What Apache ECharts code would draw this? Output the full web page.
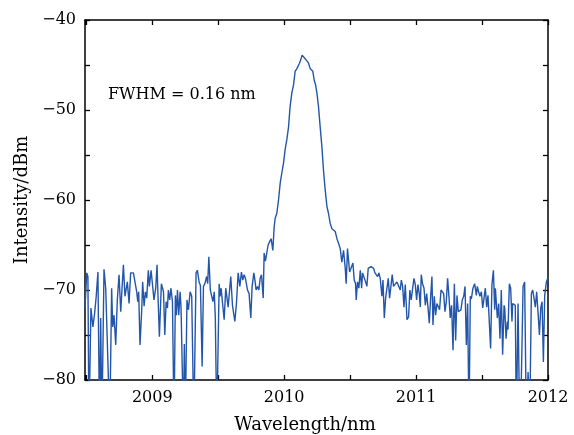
<!DOCTYPE html>
<html><head><meta charset="utf-8">
<script src="https://cdn.jsdelivr.net/npm/echarts@6/dist/echarts.min.js"></script>
<style>html,body{margin:0;padding:0;background:#fff}#c{width:574px;height:435px}</style>
</head><body><div id="c"></div>
<script>
// Wavelength samples (nm)
const wavelength = [
2008.490,2008.503,2008.512,2008.520,2008.535,2008.550,2008.563,2008.575,2008.588,2008.600,
2008.609,2008.618,2008.634,2008.647,2008.656,2008.678,2008.692,2008.700,2008.710,2008.723,
2008.735,2008.748,2008.761,2008.781,2008.793,2008.811,2008.824,2008.836,2008.857,2008.864,
2008.882,2008.890,2008.897,2008.907,2008.920,2008.927,2008.938,2008.948,2008.958,2008.970,
2008.978,2008.991,2009.013,2009.026,2009.036,2009.044,2009.054,2009.069,2009.085,2009.095,
2009.105,2009.115,2009.122,2009.132,2009.142,2009.153,2009.165,2009.175,2009.183,2009.191,
2009.201,2009.211,2009.218,2009.236,2009.243,2009.250,2009.263,2009.274,2009.287,2009.299,
2009.315,2009.332,2009.342,2009.355,2009.365,2009.378,2009.388,2009.399,2009.412,2009.420,
2009.429,2009.440,2009.450,2009.460,2009.470,2009.478,2009.489,2009.507,2009.514,2009.522,
2009.529,2009.545,2009.557,2009.575,2009.583,2009.595,2009.608,2009.626,2009.638,2009.651,
2009.664,2009.676,2009.686,2009.696,2009.706,2009.722,2009.734,2009.747,2009.757,2009.770,
2009.780,2009.787,2009.798,2009.808,2009.818,2009.828,2009.841,2009.848,2009.858,2009.868,
2009.878,2009.891,2009.901,2009.914,2009.924,2009.932,2009.944,2009.957,2009.970,2009.982,
2009.995,2010.007,2010.020,2010.033,2010.045,2010.058,2010.071,2010.083,2010.096,2010.109,
2010.116,2010.126,2010.136,2010.147,2010.159,2010.172,2010.185,2010.197,2010.210,2010.217,
2010.228,2010.238,2010.248,2010.260,2010.273,2010.286,2010.298,2010.311,2010.324,2010.336,
2010.349,2010.362,2010.374,2010.387,2010.400,2010.412,2010.425,2010.437,2010.450,2010.463,
2010.470,2010.480,2010.488,2010.496,2010.508,2010.521,2010.531,2010.541,2010.546,2010.556,
2010.566,2010.577,2010.587,2010.594,2010.607,2010.617,2010.627,2010.637,2010.647,2010.658,
2010.668,2010.678,2010.688,2010.698,2010.708,2010.718,2010.728,2010.741,2010.749,2010.759,
2010.769,2010.779,2010.789,2010.799,2010.809,2010.819,2010.829,2010.842,2010.855,2010.867,
2010.880,2010.888,2010.898,2010.908,2010.918,2010.931,2010.943,2010.953,2010.963,2010.974,
2010.984,2010.994,2011.004,2011.014,2011.024,2011.032,2011.039,2011.049,2011.060,2011.070,
2011.080,2011.090,2011.100,2011.110,2011.120,2011.128,2011.138,2011.148,2011.158,2011.168,
2011.178,2011.189,2011.199,2011.209,2011.219,2011.229,2011.239,2011.249,2011.259,2011.269,
2011.280,2011.290,2011.300,2011.310,2011.320,2011.330,2011.340,2011.350,2011.361,2011.371,
2011.381,2011.391,2011.401,2011.411,2011.419,2011.431,2011.444,2011.457,2011.464,2011.474,
2011.484,2011.495,2011.505,2011.515,2011.525,2011.535,2011.545,2011.555,2011.565,2011.575,
2011.586,2011.596,2011.601,2011.608,2011.616,2011.626,2011.636,2011.646,2011.656,2011.667,
2011.672,2011.682,2011.692,2011.697,2011.707,2011.717,2011.727,2011.732,2011.742,2011.752,
2011.760,2011.773,2011.785,2011.798,2011.811,2011.823,2011.836,2011.849,2011.861,2011.874,
2011.884,2011.894,2011.904,2011.914,2011.924,2011.935,2011.945,2011.955,2011.965,2011.975,
2011.988,2012.000
];
// Intensity (dBm)
const intensity = [
-72.0,-68.1,-68.5,-85,-72.0,-74.1,-72.6,-70.7,-68.0,-85,
-73.1,-85,-67.7,-69.8,-69.6,-85,-69.8,-74.1,-72.8,-76.1,
-71.1,-68.3,-72.4,-67.2,-70.7,-69.1,-71.5,-68.1,-68.1,-68.0,
-70.2,-71.3,-70.2,-76.1,-72.2,-69.1,-71.8,-70.2,-70.9,-67.8,
-69.6,-67.8,-71.1,-69.8,-67.2,-70.9,-75.2,-69.3,-70.2,-75.0,
-71.3,-72.0,-70.0,-71.1,-69.8,-71.3,-85,-70.6,-72.8,-70.0,
-72.8,-70.2,-71.9,-85,-76.0,-85,-71.1,-72.2,-70.2,-70.7,
-85,-68.1,-67.8,-69.1,-69.5,-78.5,-69.6,-69.3,-68.5,-69.3,
-66.3,-70.0,-69.9,-71.3,-70.2,-73.1,-85,-69.3,-70.7,-69.8,
-70.9,-73.3,-69.8,-71.9,-72.0,-68.5,-71.7,-73.5,-71.5,-68.1,
-69.6,-68.0,-68.9,-68.3,-68.7,-70.0,-70.4,-73.1,-69.6,-68.1,
-69.1,-70.0,-69.6,-70.0,-68.7,-68.3,-70.9,-65.9,-66.8,-66.8,
-65.0,-64.6,-64.3,-65.6,-63.0,-62.0,-61.5,-60.0,-58.1,-57.0,
-55.9,-54.4,-53.3,-51.9,-49.6,-48.1,-47.2,-45.7,-45.4,-45.2,
-44.8,-44.4,-43.9,-44.1,-44.3,-44.5,-44.8,-45.4,-45.4,-45.7,
-46.7,-47.2,-48.1,-49.6,-51.9,-54.1,-56.7,-58.9,-60.7,-61.5,
-62.6,-63.2,-63.0,-63.5,-64.3,-64.8,-65.4,-66.9,-65.6,-67.6,
-69.3,-65.4,-65.2,-68.0,-68.1,-67.0,-68.9,-69.3,-71.1,-69.1,
-69.8,-67.8,-69.8,-68.1,-68.3,-69.1,-69.6,-67.6,-67.6,-67.4,
-67.2,-67.6,-68.1,-68.0,-68.5,-68.1,-68.7,-70.7,-68.9,-73.1,
-70.9,-70.9,-68.7,-70.9,-70.7,-68.3,-69.6,-69.6,-69.1,-68.9,
-70.0,-68.9,-69.6,-71.9,-69.4,-73.3,-73.0,-70.0,-71.1,-69.8,
-68.7,-69.4,-71.1,-69.4,-70.4,-71.9,-68.3,-69.3,-69.8,-71.7,
-70.4,-71.9,-73.7,-70.9,-68.5,-73.9,-70.7,-72.8,-71.5,-71.7,
-72.2,-70.0,-70.0,-70.4,-72.4,-71.3,-68.7,-70.7,-73.1,-71.7,
-76.7,-69.3,-75.6,-70.6,-72.4,-72.6,-72.2,-71.1,-70.7,-69.6,
-76.1,-71.5,-85,-70.7,-71.0,-69.8,-69.3,-70.6,-69.6,-70.2,
-70.7,-70.2,-72.0,-70.9,-69.8,-71.9,-70.6,-70.4,-76.5,-69.4,
-67.8,-72.2,-69.8,-69.6,-73.1,-71.5,-75.4,-70.0,-77.2,-71.7,
-72.0,-75.4,-73.5,-74.4,-69.3,-69.8,-73.5,-71.5,-71.5,-71.7,
-85,-71.5,-85,-79.8,-69.6,-69.1,-85,-79.1,-85,-70.4,
-70.0,-70.9,-71.9,-70.2,-72.4,-75.0,-72.0,-71.3,-78.0,-70.6,
-69.1,-68.6
];
const xRange = [2008.49, 2012];
const yRange = [-80, -40];
const annotation = 'FWHM = 0.16 nm';

const FONT = 'DejaVu Serif';
const chart = echarts.init(document.getElementById('c'), null, {renderer: 'canvas'});
const axisLine = {show: true, lineStyle: {color: '#000', width: 1.5}};
const tick = {show: true, inside: true, length: 5, lineStyle: {color: '#000', width: 1.3}};
const minor = {show: true, splitNumber: 2, length: 5, lineStyle: {color: '#000', width: 1.3}};
const xBase = {type: 'value', min: xRange[0], max: xRange[1], splitNumber: 7,
  axisLine, axisTick: tick, splitLine: {show: false}};
const yBase = {type: 'value', min: yRange[0], max: yRange[1], interval: 10,
  axisLine, axisTick: tick, minorTick: minor, splitLine: {show: false}, minorSplitLine: {show: false}};

chart.setOption({
  animation: false,
  backgroundColor: '#fff',
  grid: {left: 85, right: 26, top: 20, bottom: 55, containLabel: false, outerBoundsMode: 'none'},
  xAxis: [
    Object.assign({}, xBase, {
      position: 'bottom',
      axisLabel: {color: '#000', fontFamily: FONT, fontSize: 16, margin: 10,
        formatter: v => Math.abs(v - Math.round(v)) < 1e-6 ? String(Math.round(v)) : ''},
      name: 'Wavelength/nm', nameLocation: 'middle', nameGap: 36,
      nameTextStyle: {color: '#000', fontFamily: FONT, fontSize: 18, padding: [0, 23, 0, 0]}
    }),
    Object.assign({}, xBase, {position: 'top', axisLabel: {show: false}})
  ],
  yAxis: [
    Object.assign({}, yBase, {
      position: 'left',
      axisLabel: {color: '#000', fontFamily: FONT, fontSize: 16, margin: 9,
        formatter: v => (v < 0 ? '\u2212' : '') + Math.abs(v)},
      name: 'Intensity/dBm', nameLocation: 'middle', nameGap: 54,
      nameTextStyle: {color: '#000', fontFamily: FONT, fontSize: 18}
    }),
    Object.assign({}, yBase, {position: 'right', axisLabel: {show: false}})
  ],
  graphic: [{
    type: 'text', left: 108, top: 87,
    style: {text: annotation, fill: '#000', font: '16px "DejaVu Serif"'}
  }],
  series: [{
    type: 'line',
    xAxisIndex: 0, yAxisIndex: 0,
    data: wavelength.map((w, i) => [w, intensity[i]]),
    showSymbol: false, symbol: 'none',
    clip: true,
    lineStyle: {color: '#2356aa', width: 1.4},
    itemStyle: {color: '#2356aa'}
  }]
});
</script></body></html>
